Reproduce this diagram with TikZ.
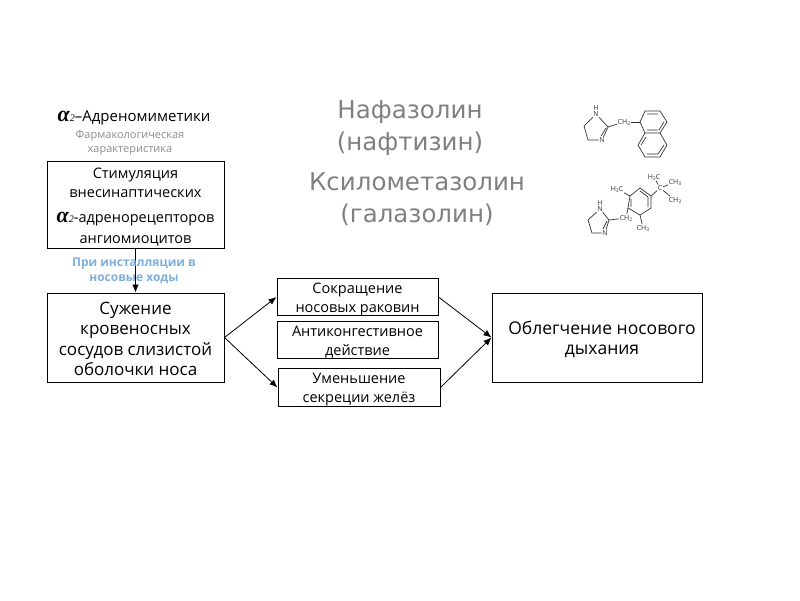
\documentclass[tikz,border=0pt]{standalone}
\usepackage{fontspec}
\setmainfont{Open Sans}
\newfontfamily\titlefont{DejaVu Sans}
\newfontfamily\alphafont{Liberation Serif}
\usetikzlibrary{positioning,arrows.meta}
\definecolor{instilblue}{RGB}{125,175,220}
\newcommand{\falpha}[1]{{\alphafont\bfseries\itshape\fontsize{#1}{#1}\selectfont α}{\alphafont\itshape\fontsize{10}{10}\selectfont 2}}
\newcommand{\nudge}[1]{\rule{0pt}{#1}}
\tikzset{
	blockbox/.style={draw,line width=1pt,align=center,inner sep=0pt},
	smallbox/.style={blockbox,font=\fontsize{14.5}{19}\selectfont},
	flowline/.style={-{Latex[length=8pt,width=6.5pt]},line width=0.8pt},
	titletext/.style={text=black!50,align=center,font=\titlefont\fontsize{24.5}{32.5}\selectfont},
	bond/.style={line width=0.7pt,black!80},
	atom/.style={inner sep=0.6pt,font=\fontsize{7}{7}\selectfont,text=black!80}
}
\begin{document}
\begin{tikzpicture}[x=1pt,y=-1pt]
	\useasboundingbox (0,0) rectangle (800,600);
	% header texts
	\node[font=\fontsize{15}{15}\selectfont] (header) at (134,117.5) {\falpha{22}–Адреномиметики};
	\node[text=black!45,align=center,font=\fontsize{11}{14}\selectfont] (pharm) at (130,143) {Фармакологическая\\характеристика};
	\node[titletext] (naph) at (410,128) {Нафазолин\\(нафтизин)};
	\node[titletext] (xylo) at (417,199) {Ксилометазолин\\(галазолин)};
	% blocks
	\node[blockbox,minimum width=177pt,minimum height=87pt,font=\fontsize{14.5}{19}\selectfont] (stim) at (135.5,204.5) {\nudge{15.5pt}Стимуляция\\внесинаптических\\[6pt]\falpha{22}-адренорецепторов\\[2pt]ангиомиоцитов};
	\node[blockbox,minimum width=177pt,minimum height=89pt,font=\fontsize{17}{20.5}\selectfont] (narrow) at (135.5,337.5) {\nudge{15pt}Сужение\\кровеносных\\сосудов слизистой\\оболочки носа};
	\node[smallbox,minimum width=161pt,minimum height=36pt] (contract) at (357.5,297) {\nudge{15pt}Сокращение\\носовых раковин};
	\node[smallbox,minimum width=161pt,minimum height=36pt] (anticong) at (357.5,340) {\nudge{15pt}Антиконгестивное\\действие};
	\node[smallbox,minimum width=162pt,minimum height=37pt] (reduce) at (359,387.5) {\nudge{15pt}Уменьшение\\секреции желёз};
	\node[blockbox,minimum width=210pt,minimum height=89pt,font=\fontsize{17.5}{20}\selectfont] (relief) at (597,337.5) {\hspace*{10pt}\nudge{17pt}Облегчение носового\\\hspace*{10pt}дыхания};
	% arrows
	\draw[flowline] (stim)--(narrow);
	\draw[flowline] (narrow.east)--(contract.west);
	\draw[flowline] (narrow.east)--(reduce.west);
	\draw[flowline] (contract.east)--(relief.west);
	\draw[flowline] (reduce.east)--(relief.west);
	\node[align=center,text=instilblue,font=\bfseries\fontsize{12}{15}\selectfont] (instil) at (134,270.5) {При инсталляции в\\носовые ходы};
	% naphazoline
	\node[atom] (na) at (596,114) {N};
	\node[atom,above=-1pt of na] (nah) {H};
	\node[atom] (nb) at (602,140) {N};
	\node[atom] (nc) at (624,122) {CH\raisebox{-1pt}{\fontsize{5}{5}\selectfont 2}};
	\draw[bond] (na)--(584,126)--(588,140)--(nb);
	\draw[bond] (na)--(608,127)--(nb);
	\draw[bond] (606,128)--(601,136);
	\draw[bond] (608,127)--(nc);
	\draw[bond] (nc)--(640,122);
	\draw[bond] (640,122)--(645,111)--(660,111)--(667,122)--(660,133)--(645,133)--cycle;
	\draw[bond] (660,133)--(667,145)--(660,157)--(645,157)--(638,145)--(645,133);
	\draw[bond] (647,114)--(658,114) (664,122)--(659,130) (647,130)--(658,130);
	\draw[bond] (664,145)--(658,154) (647,154)--(658,154) (641,145)--(646,137);
	% xylometazoline
	\node[atom] (xa) at (600,209) {N};
	\node[atom,above=-1pt of xa] (xah) {H};
	\node[atom] (xb) at (605,233) {N};
	\node[atom] (xc) at (626,218) {CH\raisebox{-1pt}{\fontsize{5}{5}\selectfont 2}};
	\node[atom] (xd) at (617,189) {H\raisebox{-1pt}{\fontsize{5}{5}\selectfont 3}C};
	\node[atom] (xe) at (643,228) {CH\raisebox{-1pt}{\fontsize{5}{5}\selectfont 3}};
	\node[atom] (xf) at (654,177) {H\raisebox{-1pt}{\fontsize{5}{5}\selectfont 3}C};
	\node[atom] (xg) at (675,182) {CH\raisebox{-1pt}{\fontsize{5}{5}\selectfont 3}};
	\node[atom] (xh) at (675,200) {CH\raisebox{-1pt}{\fontsize{5}{5}\selectfont 3}};
	\node[atom] (xi) at (660,188) {C};
	\draw[bond] (xa)--(588,220)--(592,233)--(xb);
	\draw[bond] (xa)--(609,220)--(xb);
	\draw[bond] (607,221)--(603,229);
	\draw[bond] (609,220)--(xc);
	\draw[bond] (xc)--(628,208);
	\draw[bond] (630,196)--(640,188)--(651,196)--(651,208)--(640,215)--(628,208)--cycle;
	\draw[bond] (640,191)--(648,197) (648,197)--(648,207) (631,199)--(631,207);
	\draw[bond] (630,196)--(xd) (640,215)--(xe) (651,196)--(xi);
	\draw[bond] (xi)--(xf) (xi)--(xg) (xi)--(xh);
\end{tikzpicture}
\end{document}
